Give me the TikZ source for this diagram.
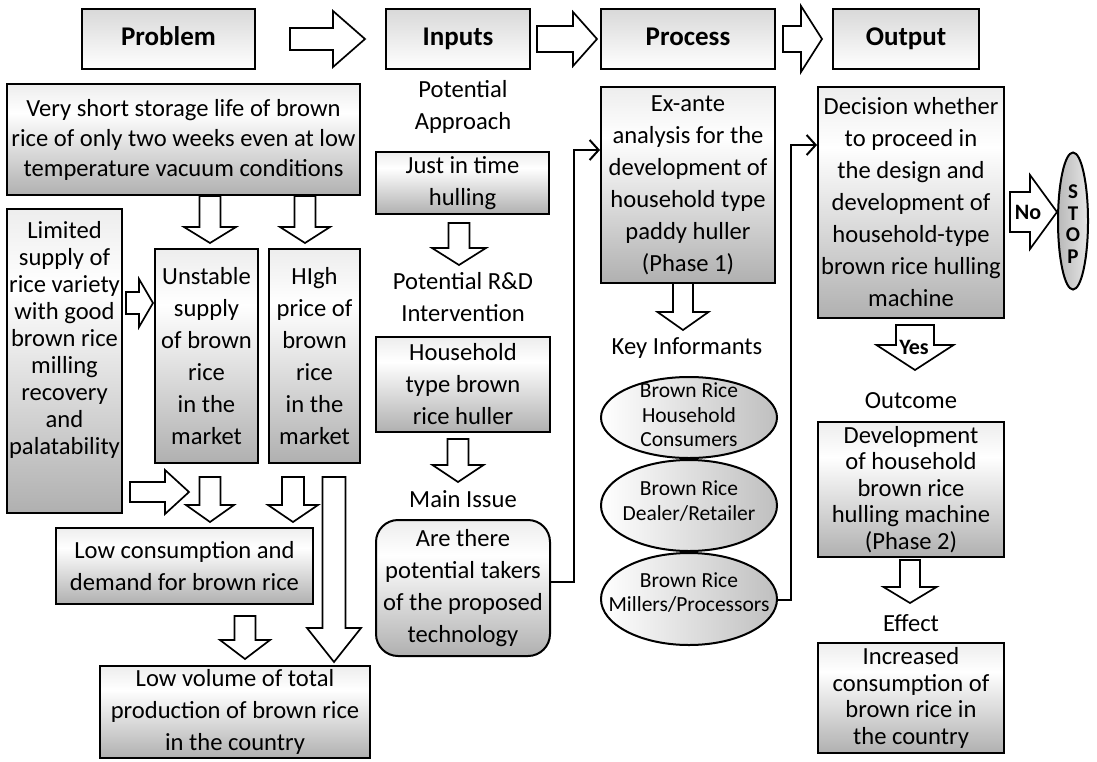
\documentclass[tikz,border=0pt]{standalone}
\usepackage{fontspec}
\setmainfont{Carlito}
\usetikzlibrary{arrows.meta,shapes.geometric,calc}
\pgfdeclareverticalshading{boxshade}{100bp}{color(0bp)=(gray!62); color(25bp)=(gray!62); color(62bp)=(white); color(75bp)=(gray!14); color(100bp)=(gray!14)}
\newcommand{\BlkDown}[6]{\draw[blk] ({#1-#3},#2) -- ({#1+#3},#2) -- ({#1+#3},#4) -- ({#1+#5},#4) -- (#1,#6) -- ({#1-#5},#4) -- ({#1-#3},#4) -- cycle;}
\newcommand{\BlkRight}[6]{\draw[blk] (#2,{#1-#3}) -- (#4,{#1-#3}) -- (#4,{#1-#5}) -- (#6,#1) -- (#4,{#1+#5}) -- (#4,{#1+#3}) -- (#2,{#1+#3}) -- cycle;}
\tikzset{
  hdr/.style={draw, line width=2pt, top color=gray!30, bottom color=white, inner sep=0, text height=19pt, text depth=6pt, font=\fontsize{27}{32}\selectfont\bfseries},
  gbox/.style={draw, line width=2pt, shading=boxshade, align=center, inner sep=0},
  f32/.style={font=\fontsize{24.6}{32}\selectfont},
  f30/.style={font=\fontsize{24.6}{30}\selectfont},
  f27/.style={font=\fontsize{24.6}{27}\selectfont},
  f26/.style={font=\fontsize{24.6}{26.5}\selectfont},
  plain/.style={align=center, inner sep=0},
  blk/.style={draw, line width=1.7pt, fill=white, line join=miter},
  conn/.style={line width=2pt, -{Straight Barb[length=9pt,width=20pt,line width=2pt]}},
  oval/.style={ellipse, draw, line width=2pt, left color=white, right color=gray!50, inner sep=0, minimum width=176pt},
  small/.style={align=center, inner sep=0, font=\fontsize{21.5}{24.5}\selectfont},
  bold22/.style={inner sep=0, font=\fontsize{22}{22}\selectfont\bfseries}
}
\begin{document}
\begin{tikzpicture}[x=1pt,y=-1pt]
\useasboundingbox (0,0) rectangle (1097,761);
% headers
\node[hdr, minimum width=173pt, minimum height=60pt] (prob) at (168.5,39) {Problem};
\node[hdr, minimum width=144pt, minimum height=60pt] (inp) at (458,39) {Inputs};
\node[hdr, minimum width=174pt, minimum height=60pt] (proc) at (688,39) {Process};
\node[hdr, minimum width=146pt, minimum height=60pt] (outp) at (906,39) {Output};
\BlkRight{39}{290}{11}{333}{28}{365}
\BlkRight{39}{537}{13}{573}{27}{597}
\BlkRight{39}{783}{13}{801}{33}{822}

% problem column
\node[gbox, f30, minimum width=353pt, minimum height=111pt] (vshort) at (183.5,139.5) {Very short storage life of brown\\rice of only two weeks even at low\\temperature vacuum conditions};
\BlkDown{210}{196}{10.5}{227}{26}{243}
\BlkDown{305}{196}{10.5}{227}{25}{243}
\node[gbox, minimum width=115pt, minimum height=304pt] (limited) at (64.5,361) {};
\node[plain, f27] (limitedtxt) at (64.5,340) {Limited\\supply of\\rice variety\\with good\\brown rice\\milling\\recovery\\and\\palatability};
\BlkRight{303}{126}{11}{139}{24}{153}
\node[gbox, f32, minimum width=103pt, minimum height=214pt] (unst) at (206.5,356) {Unstable\\supply\\of brown\\rice\\in the\\market};
\node[gbox, f32, minimum width=91pt, minimum height=214pt] (high) at (314.5,356) {HIgh\\price of\\brown\\rice\\in the\\market};
\BlkRight{492}{130}{10}{165}{22}{189}
\BlkDown{210}{477}{10.5}{505}{24}{522}
\BlkDown{293}{477}{11}{505}{25}{522}
\BlkDown{334}{477}{11.5}{628}{27}{662}
\node[gbox, f32, minimum width=257pt, minimum height=76pt] (lowcons) at (184.5,566) {Low consumption and\\demand for brown rice};
\BlkDown{245}{616}{10.5}{640}{25}{659}
\node[gbox, f32, minimum width=270pt, minimum height=92pt] (lowvol) at (235,712) {Low volume of total\\production of brown rice\\in the country};

% inputs column
\node[plain, f32] (potapp) at (463,107) {Potential\\Approach};
\node[gbox, f32, minimum width=173pt, minimum height=62pt] (jit) at (462.5,183) {Just in time\\hulling};
\BlkDown{459}{223}{10.5}{248}{27}{265}
\node[plain, f32] (potrd) at (463,297.5) {Potential R\&D\\Intervention};
\node[gbox, f32, minimum width=174pt, minimum height=95pt] (hh) at (463,384.5) {Household\\type brown\\rice huller};
\BlkDown{458}{439}{10.5}{465}{25.5}{482}
\node[plain, f32] (mainiss) at (463,499) {Main Issue};
\node[gbox, f32, rounded corners=22pt, minimum width=174pt, minimum height=136pt] (are) at (463,588) {Are there\\potential takers\\of the proposed\\technology};

% process column
\node[gbox, f32, minimum width=174pt, minimum height=196pt] (exante) at (688,185) {Ex-ante\\analysis for the\\development of\\household type\\paddy huller\\(Phase 1)};
\BlkDown{683}{283}{10}{312}{25.5}{330}
\node[plain, f32] (keyinf) at (687,348) {Key Informants};
\node[oval, minimum height=81pt] (k1) at (689,417.5) {};
\node[small] (k1txt) at (689,415) {Brown Rice\\Household\\Consumers};
\node[oval, minimum height=91pt] (k2) at (689,505.5) {};
\node[small] (k2txt) at (689,501) {Brown Rice\\Dealer/Retailer};
\node[oval, minimum height=92pt] (k3) at (689,599) {};
\node[small] (k3txt) at (689,592.5) {Brown Rice\\Millers/Processors};

% output column
\node[gbox, f32, minimum width=186pt, minimum height=231pt] (dec) at (911,202.5) {Decision whether\\to proceed in\\the design and\\development of\\household-type\\brown rice hulling\\machine};
\BlkRight{212}{1010}{20}{1030}{37}{1057}
\node[bold22] (notxt) at (1028,212) {No};
\node[ellipse, draw, line width=2pt, left color=gray!55, right color=gray!20, inner sep=0, minimum width=30pt, minimum height=137pt] (stop) at (1073,221) {};
\node[plain, font=\fontsize{21}{21.7}\selectfont\bfseries] (stoptxt) at (1073,224) {S\\T\\O\\P};
\BlkDown{915}{325}{19}{345}{38.5}{370}
\node[bold22] (yestxt) at (914,347) {Yes};
\node[plain, f32] (outc) at (911,401) {Outcome};
\node[gbox, f26, minimum width=186pt, minimum height=135pt] (devel) at (911,489.5) {Development\\of household\\brown rice\\hulling machine\\(Phase 2)};
\BlkDown{910}{560}{10}{587}{26.5}{603}
\node[plain, f32] (eff) at (911,623) {Effect};
\node[gbox, f26, minimum width=186pt, minimum height=110pt] (incr) at (911,698) {Increased\\consumption of\\brown rice in\\the country};

% connectors
\coordinate (ca) at (574,582);
\coordinate (cb) at (574,150);
\draw[conn] (are.east |- ca) -- (ca) -- (cb) -- (exante.west |- cb);
\coordinate (cc) at (791,600);
\coordinate (cd) at (791,145);
\draw[conn] (k3.east |- cc) -- (cc) -- (cd) -- (dec.west |- cd);
\end{tikzpicture}
\end{document}
